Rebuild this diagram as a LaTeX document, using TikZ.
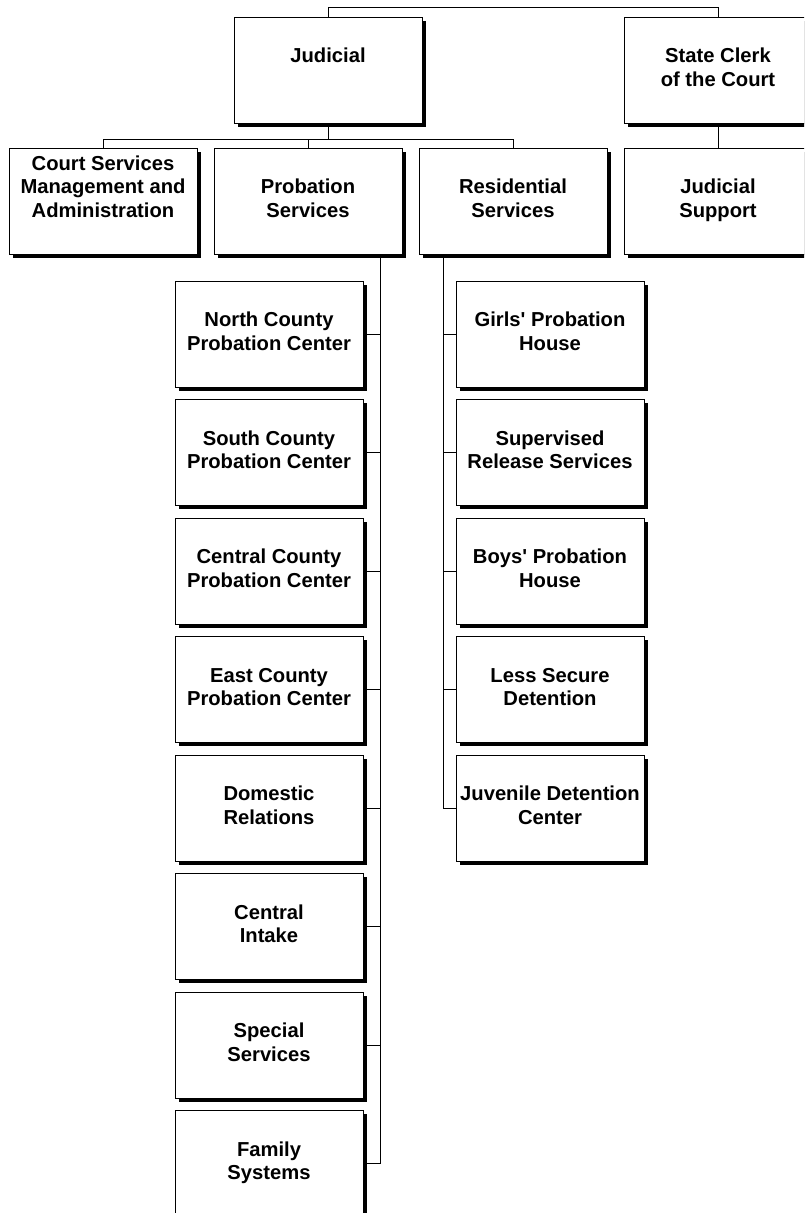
\documentclass[tikz,border=0pt]{standalone}
\usepackage{fontspec}
\setmainfont{Liberation Sans}
\usetikzlibrary{shadows}

\begin{document}
\begin{tikzpicture}[x=1pt,y=-1pt,
      font=\fontsize{20.2}{23.5}\selectfont\bfseries,
      unit/.style={draw,fill=white,line width=0.9pt,minimum width=188pt,
                   minimum height=106pt,align=center,inner sep=1pt,
                   drop shadow={shadow xshift=3.5pt,shadow yshift=-3.5pt,
                                opacity=1,fill=black}},
      link/.style={line width=0.9pt}]
    \clip (0,0) rectangle (804,1213);
    % top level
    \node[unit] (jud) at (328,70) {\strut Judicial\\\strut};
    \node[unit] (clerk) at (718,70) {\strut State Clerk\\of the Court\strut};
    % second level
    \node[unit] (court) at (103,201)
      {\strut Court Services\\Management and\\Administration\\\strut};
    \node[unit] (prob) at (308,201) {\strut Probation\\Services\strut};
    \node[unit] (res) at (513,201) {\strut Residential\\Services\strut};
    \node[unit] (supp) at (718,201) {\strut Judicial\\Support\strut};
    % probation units
    \node[unit] (north) at (269,334) {\strut North County\\Probation Center\strut};
    \node[unit] (south) at (269,452.5) {\strut South County\\Probation Center\strut};
    \node[unit] (central) at (269,571) {\strut Central County\\Probation Center\strut};
    \node[unit] (east) at (269,689.5) {\strut East County\\Probation Center\strut};
    \node[unit] (dom) at (269,808) {\strut Domestic\\Relations\strut};
    \node[unit] (intake) at (269,926.5) {\strut Central\\Intake\strut};
    \node[unit] (spec) at (269,1045) {\strut Special\\Services\strut};
    \node[unit] (fam) at (269,1163.5) {\strut Family\\Systems\strut};
    % residential units
    \node[unit] (girls) at (550,334) {\strut Girls\textquotesingle{} Probation\\House\strut};
    \node[unit] (release) at (550,452.5) {\strut Supervised\\Release Services\strut};
    \node[unit] (boys) at (550,571) {\strut Boys\textquotesingle{} Probation\\House\strut};
    \node[unit] (less) at (550,689.5) {\strut Less Secure\\Detention\strut};
    \node[unit] (juv) at (550,808) {\strut Juvenile Detention\\Center\strut};
    % buses and spines
    \coordinate (topbus) at (0,7);
    \coordinate (midbus) at (0,139);
    \coordinate (pspine) at (380,0);
    \coordinate (rspine) at (443,0);
    \draw[link] (jud.north) -- (jud.north |- topbus) -| (clerk.north);
    \draw[link] (jud.south) -- (jud.south |- midbus);
    \draw[link] (court.north) |- (res.north |- midbus) -- (res.north);
    \draw[link] (prob.north) -- (prob.north |- midbus);
    \draw[link] (clerk) -- (supp);
    \draw[link] (pspine |- prob.south) -- (pspine |- fam.east);
    \draw[link] (rspine |- res.south) -- (rspine |- juv.west);
    \draw[link] (north.east) -- (north.east -| pspine);
    \draw[link] (south.east) -- (south.east -| pspine);
    \draw[link] (central.east) -- (central.east -| pspine);
    \draw[link] (east.east) -- (east.east -| pspine);
    \draw[link] (dom.east) -- (dom.east -| pspine);
    \draw[link] (intake.east) -- (intake.east -| pspine);
    \draw[link] (spec.east) -- (spec.east -| pspine);
    \draw[link] (fam.east) -- (fam.east -| pspine);
    \draw[link] (girls.west) -- (girls.west -| rspine);
    \draw[link] (release.west) -- (release.west -| rspine);
    \draw[link] (boys.west) -- (boys.west -| rspine);
    \draw[link] (less.west) -- (less.west -| rspine);
    \draw[link] (juv.west) -- (juv.west -| rspine);
  \end{tikzpicture}
\end{document}
